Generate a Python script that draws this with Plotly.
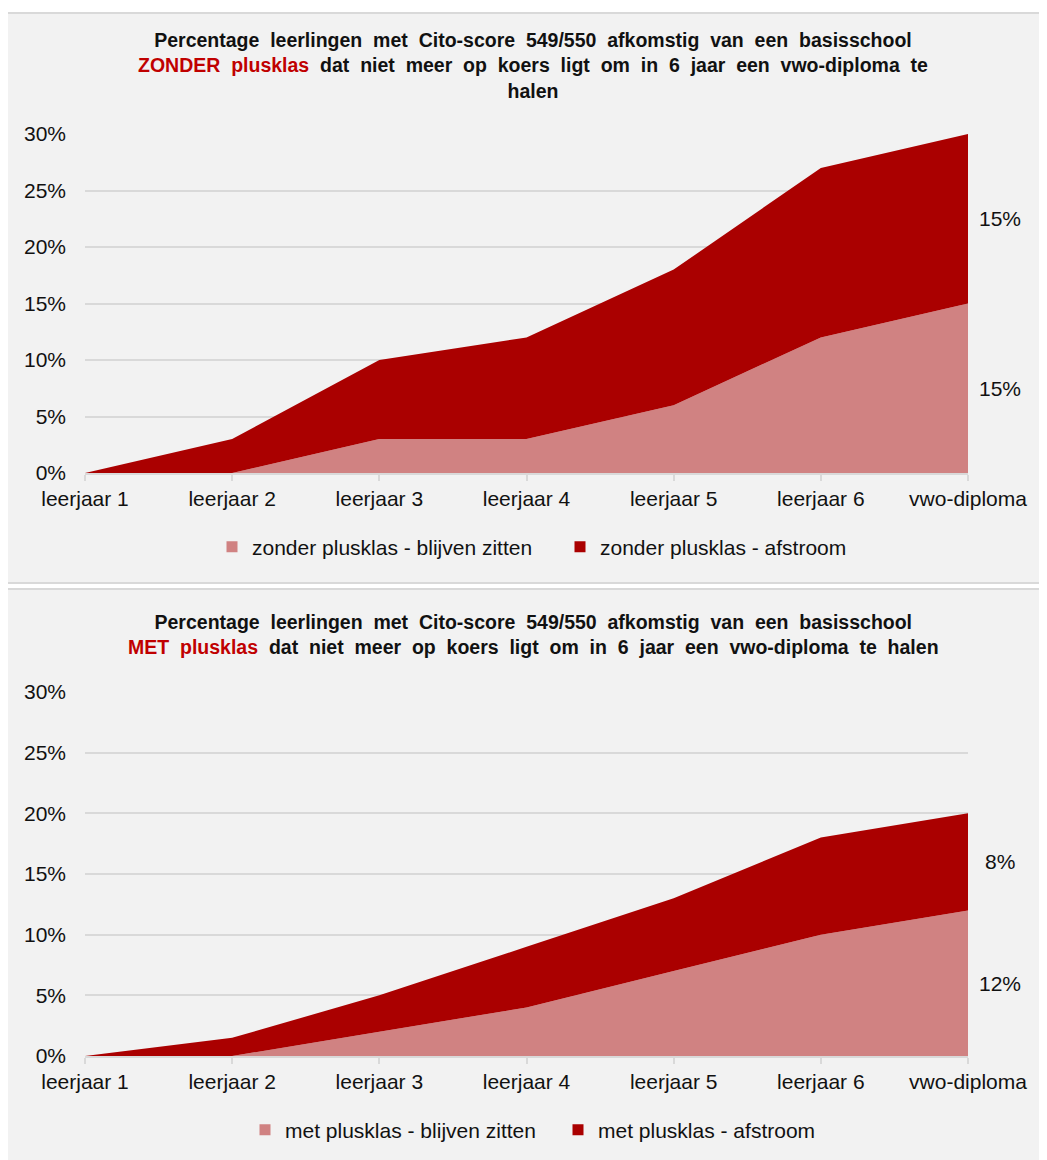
import plotly.graph_objects as go
from plotly.subplots import make_subplots

# categories
years = ["leerjaar 1", "leerjaar 2", "leerjaar 3", "leerjaar 4",
         "leerjaar 5", "leerjaar 6", "vwo-diploma"]

# zonder plusklas (percent per segment, stacked)
zonder_zitten   = [0, 0, 3, 3, 6, 12, 15]
zonder_afstroom = [0, 3, 7, 9, 12, 15, 15]

# met plusklas
met_zitten   = [0, 0, 2, 4, 7, 10, 12]
met_afstroom = [0, 1.5, 3, 5, 6, 8, 8]

'''colours - Excel-ish reds on light grey panels'''
PINK   = "#D08282"
DARK   = "#AA0000"
TITLE_RED = "#C00000"
PANEL  = "#F2F2F2"
BORDER = "#D9D9D9"
GRID   = "#D9D9D9"
TEXT   = "#111111"
FONT   = "Liberation Sans, Arial, sans-serif"

W, H = 1047, 1160
OFF = 8   # page body margin, positions below are measured on the page


def px_x(p):
    return (p - OFF) / W


def px_y(p):
    return 1 - (p - OFF) / H


SP = " \u00a0"


def wide(s):
    '''Excel spreads the words of the title a bit'''
    return s.replace(" ", SP)


fig = make_subplots(rows=2, cols=1)

panels = [
    dict(zitten=zonder_zitten, afstroom=zonder_afstroom, prefix="zonder plusklas",
         row=1, legend="legend"),
    dict(zitten=met_zitten, afstroom=met_afstroom, prefix="met plusklas",
         row=2, legend="legend2"),
]

for p in panels:
    zit = [v / 100 for v in p["zitten"]]
    afs = [v / 100 for v in p["afstroom"]]
    fig.add_trace(go.Scatter(
        x=years, y=zit, stackgroup=f"s{p['row']}", mode="none",
        fillcolor=PINK, showlegend=False, hoverinfo="skip",
    ), row=p["row"], col=1)
    fig.add_trace(go.Scatter(
        x=years, y=afs, stackgroup=f"s{p['row']}", mode="none",
        fillcolor=DARK, showlegend=False, hoverinfo="skip",
    ), row=p["row"], col=1)

    '''legend entries as small squares'''
    for name, col in [(f"{p['prefix']} - blijven zitten", PINK),
                      (f"{p['prefix']} - afstroom", DARK)]:
        fig.add_trace(go.Scatter(
            x=[None], y=[None], mode="markers", name=name,
            marker=dict(symbol="square", size=11, color=col),
            legend=p["legend"],
        ), row=p["row"], col=1)

    '''data labels for the last category, right of the plot'''
    last_z = p["zitten"][-1]
    last_a = p["afstroom"][-1]
    xr = "x" if p["row"] == 1 else "x2"
    yr = "y" if p["row"] == 1 else "y2"
    for val, mid in [(last_z, last_z / 2), (last_a, last_z + last_a / 2)]:
        fig.add_annotation(
            x=years[-1], y=mid / 100, xref=xr, yref=yr,
            text=f"{val:g}%", showarrow=False, xshift=32,
            font=dict(size=21, color=TEXT, family=FONT),
        )

'''grey panel backgrounds'''
for top, bot in [(13, 583), (589, 1166)]:
    fig.add_shape(type="rect", xref="paper", yref="paper",
                  x0=px_x(6), x1=px_x(1046), y0=px_y(bot), y1=px_y(top),
                  fillcolor=PANEL, line=dict(color=BORDER, width=2), layer="below")

'''titles'''
title_font = dict(size=19.5, color=TEXT, family=FONT)
fig.add_annotation(
    xref="paper", yref="paper", x=px_x(533), y=px_y(40), yanchor="middle",
    text=("<b>" + wide("Percentage leerlingen met Cito-score 549/550 afkomstig van een basisschool") + "<br>"
          f"<span style='color:{TITLE_RED}'>" + wide("ZONDER plusklas") + "</span>" + SP
          + wide("dat niet meer op koers ligt om in 6 jaar een vwo-diploma te") + "<br>halen</b>"),
    showarrow=False, font=title_font, align="center", yshift=-25,
)
fig.add_annotation(
    xref="paper", yref="paper", x=px_x(533), y=px_y(634), yanchor="middle",
    text=("<b>" + wide("Percentage leerlingen met Cito-score 549/550 afkomstig van een basisschool") + "<br>"
          f"<span style='color:{TITLE_RED}'>" + wide("MET plusklas") + "</span>" + SP
          + wide("dat niet meer op koers ligt om in 6 jaar een vwo-diploma te halen") + "</b>"),
    showarrow=False, font=title_font, align="center",
)

xdom = [px_x(85), px_x(968)]
axis_common_x = dict(
    type="category", range=[0, 6], domain=xdom, automargin=False,
    showline=True, linecolor=GRID, linewidth=1.5,
    ticks="outside", ticklen=6, tickcolor=GRID, tickwidth=1.5,
    showgrid=False, zeroline=False,
    tickfont=dict(size=21, color=TEXT, family=FONT),
)
axis_common_y = dict(
    range=[0, 0.30], dtick=0.05, tickformat=".0%", automargin=False,
    showgrid=True, gridcolor=GRID, gridwidth=1.5,
    zeroline=False, showline=False, ticks="",
    ticklabelstandoff=18,
    tickfont=dict(size=21, color=TEXT, family=FONT),
)

legend_common = dict(
    orientation="h", xanchor="left", yanchor="middle",
    bgcolor="rgba(0,0,0,0)", font=dict(size=21, color=TEXT, family=FONT),
    itemwidth=30, traceorder="normal", tracegroupgap=0,
)

fig.update_layout(
    width=W, height=H,
    margin=dict(l=0, r=0, t=0, b=0, autoexpand=False),
    paper_bgcolor="white",
    plot_bgcolor="white",
    font=dict(family=FONT, color=TEXT, size=21),
    xaxis=dict(**axis_common_x, anchor="y"),
    xaxis2=dict(**axis_common_x, anchor="y2"),
    yaxis=dict(**axis_common_y, domain=[px_y(473), px_y(134)], anchor="x"),
    yaxis2=dict(**axis_common_y, domain=[px_y(1056), px_y(692)], anchor="x2"),
    legend=dict(**legend_common, x=px_x(212), y=px_y(547), entrywidth=303),
    legend2=dict(**legend_common, x=px_x(245), y=px_y(1130), entrywidth=268),
    showlegend=True,
)

fig.write_html("out.html")
